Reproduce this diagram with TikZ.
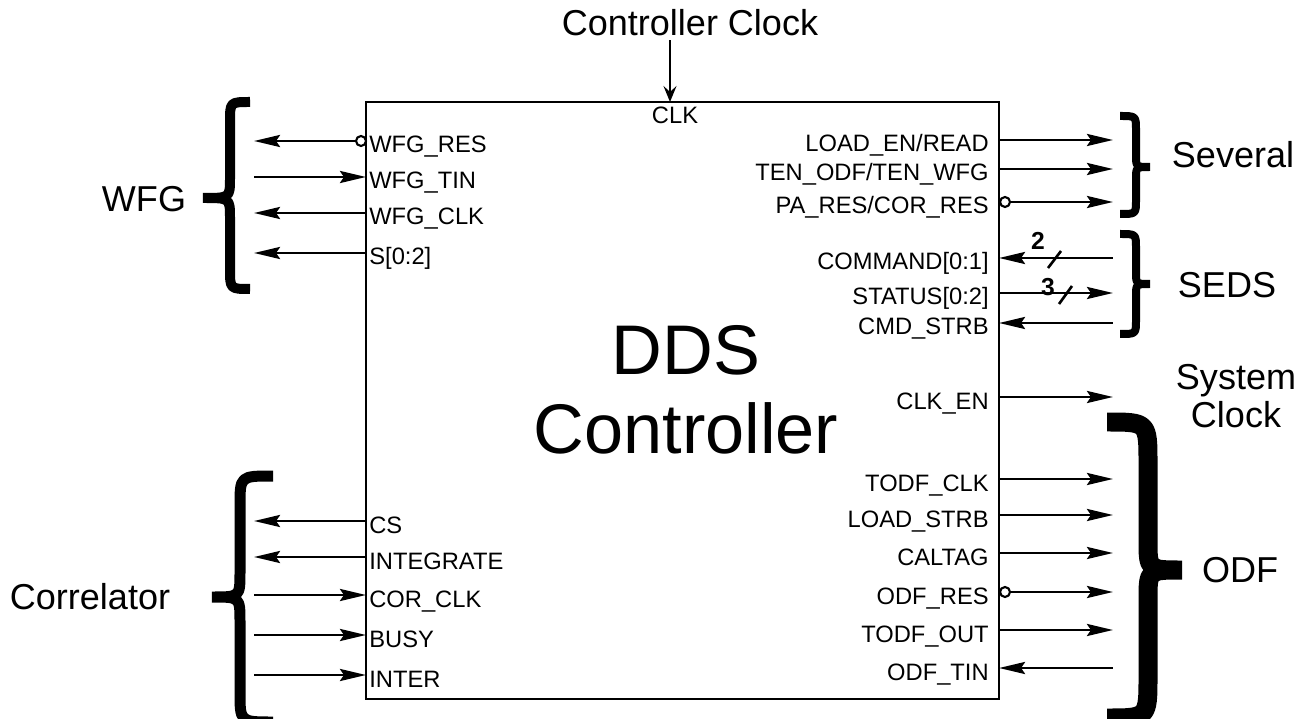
\documentclass[tikz,border=0pt]{standalone}
\usepackage{fontspec}
\setmainfont{Liberation Sans}
\usetikzlibrary{arrows.meta,positioning}

\begin{document}
\begin{tikzpicture}[x=0.02cm,y=-0.02cm,>={Stealth[length=0.52cm,width=0.24cm,inset=0.08cm]},
  sig/.style={line width=1.7pt},
  lpin/.style={anchor=base west,inner sep=0pt,font=\fontsize{13.5}{16}\selectfont},
  rpin/.style={anchor=base east,inner sep=0pt,font=\fontsize{13.5}{16}\selectfont},
  group/.style={font=\fontsize{20.5}{21.5}\selectfont,align=center,inner sep=0pt},
  bubble/.style={circle,draw,line width=1.2pt,inner sep=0pt,minimum size=0.2cm},
  curly/.style={line join=bevel}]
\useasboundingbox (0,0) rectangle (1308,719);

% main block
\node[draw,line width=1.5pt,minimum width=12.66cm,minimum height=11.94cm,inner sep=0pt] (dds) at (682.5,400.5) {};
\node[font=\fontsize{40}{45}\selectfont,align=center] (title) at (686,390) {DDS\\Controller};

% controller clock
\node[group,inner sep=2pt] (ctlclk) at (690,23) {Controller Clock};
\coordinate (clk-in) at (670,102);
\draw[line width=1.2pt,-{Stealth[length=0.32cm,width=0.26cm,inset=0.12cm]}] (ctlclk.south -| clk-in) -- (clk-in);
\node[lpin,anchor=base] (clk) at (675,124) {CLK};

% left pins
\node[bubble] (wres-b) at (361,141) {};
\coordinate (wres-out) at (254,141);
\node[lpin] (wres) at (369,153) {WFG\_RES};
\draw[sig,->] (wres-b) -- (wres-out);
\foreach \y/\nm/\lab/\dir in {177/wtin/WFG\_TIN/->, 213/wclk/WFG\_CLK/<-, 253/sel/{S[0:2]}/<-,
    521/cs/CS/<-, 557/integ/INTEGRATE/<-, 595/corclk/COR\_CLK/->, 635/busy/BUSY/->, 675/inter/INTER/->}{
  \node[lpin] (\nm) at (369,\y+12) {\lab};
  \coordinate (\nm-in) at (366,\y);
  \coordinate (\nm-out) at (254,\y);
  \draw[sig,\dir] (\nm-out) -- (\nm-in);
}

% right pins
\foreach \y/\nm/\lab/\dir in {140/len/{LOAD\_EN/READ}/->, 169/ten/{TEN\_ODF/TEN\_WFG}/->,
    258/cmd/{COMMAND[0:1]}/<-, 293/stat/{STATUS[0:2]}/->, 323/strb/CMD\_STRB/<-, 397/clken/CLK\_EN/->,
    479/tclk/TODF\_CLK/->, 515/lstrb/LOAD\_STRB/->, 553/cal/CALTAG/->, 630/tout/TODF\_OUT/->, 668/otin/ODF\_TIN/<-}{
  \node[rpin] (\nm) at (989,\y+12) {\lab};
  \coordinate (\nm-in) at (999,\y);
  \coordinate (\nm-out) at (1113,\y);
  \draw[sig,\dir] (\nm-in) -- (\nm-out);
}
\node[bubble] (pares-b) at (1005,202) {};
\coordinate (pares-out) at (1113,202);
\node[rpin] (pares) at (989,214) {PA\_RES/COR\_RES};
\draw[sig,->] (pares-b) -- (pares-out);
\node[bubble] (odfres-b) at (1005,592) {};
\coordinate (odfres-out) at (1113,592);
\node[rpin] (odfres) at (989,604) {ODF\_RES};
\draw[sig,->] (odfres-b) -- (odfres-out);

% bus widths
\draw[line width=1.5pt] (1048,268) -- (1061,251);
\node[font=\bfseries\fontsize{14}{16}\selectfont,inner sep=0pt] (cmdw) at (1038,241) {2};
\draw[line width=1.5pt] (1059,304) -- (1072,286);
\node[font=\bfseries\fontsize{14}{16}\selectfont,inner sep=0pt] (statw) at (1048,287) {3};

% braces
\draw[curly,line width=0.2cm] (250,102) .. controls (230,102) .. (230,122) -- (230,178)
  .. controls (230,198) .. (203,198) .. controls (230,198) .. (230,218) -- (230,269)
  .. controls (230,289) .. (250,289);
\draw[curly,line width=0.22cm] (273,476) .. controls (240,476) .. (240,506) -- (240,572)
  .. controls (240,597) .. (212,597) .. controls (240,597) .. (240,622) -- (240,692)
  .. controls (240,722) .. (273,722);
\draw[curly,line width=0.16cm] (1120,116) .. controls (1136,116) .. (1136,130) -- (1136,155)
  .. controls (1136,167) .. (1150,167) .. controls (1136,167) .. (1136,179) -- (1136,200)
  .. controls (1136,214) .. (1120,214);
\draw[curly,line width=0.16cm] (1120,234) .. controls (1136,234) .. (1136,248) -- (1136,272)
  .. controls (1136,284) .. (1150,284) .. controls (1136,284) .. (1136,296) -- (1136,320)
  .. controls (1136,334) .. (1120,334);
\draw[curly,line width=0.38cm] (1107,422) .. controls (1148,422) .. (1148,464) -- (1148,540)
  .. controls (1148,570) .. (1182,570) .. controls (1148,570) .. (1148,600) -- (1148,676)
  .. controls (1148,718) .. (1107,718);

% group labels
\node[group] (wfg) at (144,199) {WFG};
\node[group] (corr) at (90,597) {Correlator};
\node[group] (several) at (1233,155) {Several};
\node[group] (seds) at (1227,285) {SEDS};
\node[group] (sysclk) at (1236,396) {System\\Clock};
\node[group] (odf) at (1240,570) {ODF};
\end{tikzpicture}
\end{document}
